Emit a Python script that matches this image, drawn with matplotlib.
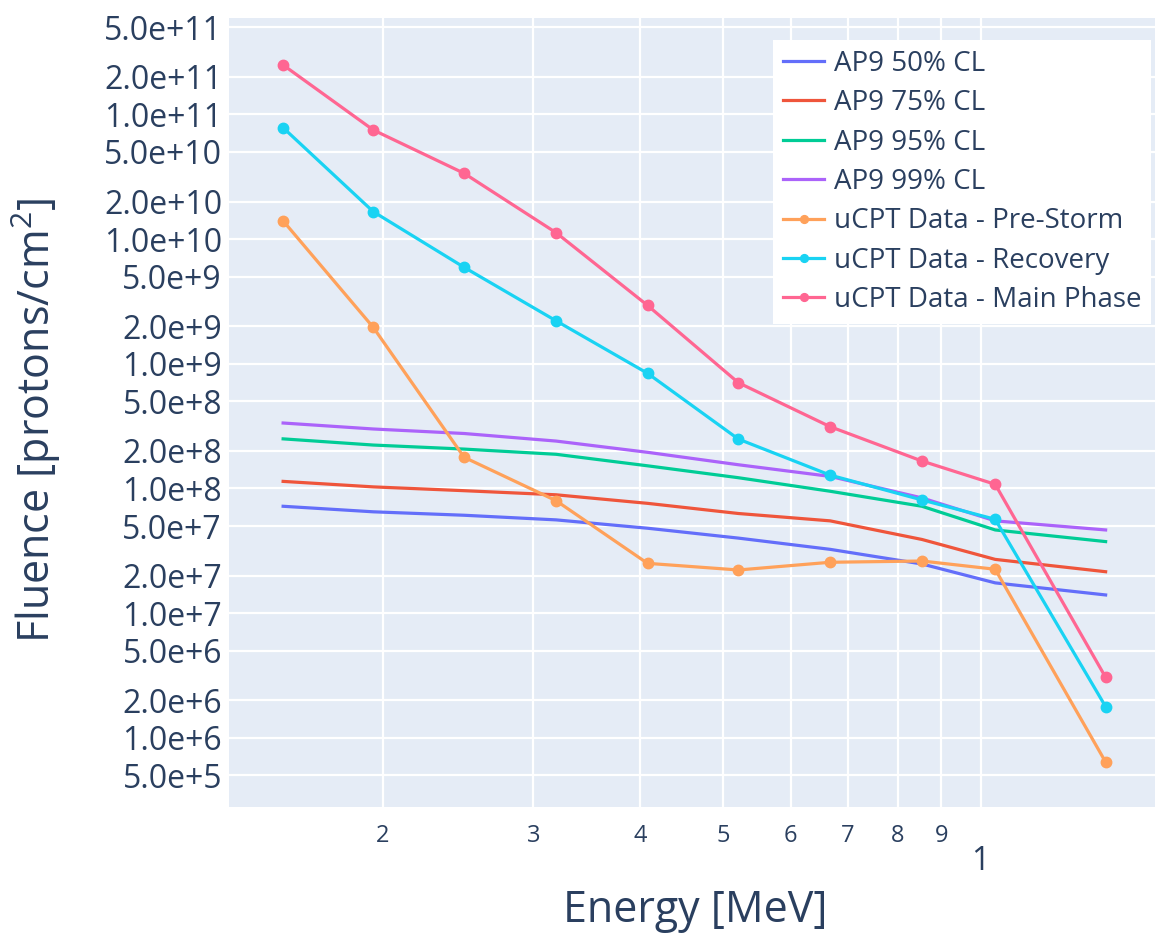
import matplotlib
matplotlib.use("Agg")
import matplotlib.pyplot as plt
from matplotlib.ticker import FixedLocator, FixedFormatter

plt.rcParams['font.family'] = ['Open Sans', 'DejaVu Sans']
plt.rcParams['mathtext.fontset'] = 'custom'
plt.rcParams['mathtext.rm'] = 'Open Sans'
plt.rcParams['mathtext.default'] = 'regular'

# energy bins [MeV]
energy = [1.53, 1.95, 2.49, 3.19, 4.08, 5.21, 6.67, 8.54, 10.4, 14.0]

# AP9 model fluence at several confidence levels
ap9_50 = [7.2e7, 6.5e7, 6.1e7, 5.6e7, 4.8e7, 4.0e7, 3.25e7, 2.48e7, 1.75e7, 1.4e7]
ap9_75 = [1.14e8, 1.03e8, 9.6e7, 8.9e7, 7.6e7, 6.3e7, 5.5e7, 3.9e7, 2.7e7, 2.15e7]
ap9_95 = [2.5e8, 2.23e8, 2.07e8, 1.88e8, 1.52e8, 1.22e8, 9.5e7, 7.2e7, 4.65e7, 3.75e7]
ap9_99 = [3.35e8, 3.0e8, 2.76e8, 2.4e8, 1.95e8, 1.55e8, 1.25e8, 8.4e7, 5.5e7, 4.65e7]

# uCPT measured fluence per storm phase
pre_storm = [1.40e10, 1.96e9, 1.78e8, 7.98e7, 2.51e7, 2.22e7, 2.56e7, 2.62e7, 2.25e7, 6.4e5]
recovery = [7.82e10, 1.66e10, 5.94e9, 2.21e9, 8.39e8, 2.49e8, 1.28e8, 8.09e7, 5.66e7, 1.78e6]
main_phase = [2.49e11, 7.5e10, 3.37e10, 1.125e10, 2.94e9, 7.05e8, 3.13e8, 1.66e8, 1.08e8, 3.06e6]

y_ticks = [5e5, 1e6, 2e6, 5e6, 1e7, 2e7, 5e7, 1e8, 2e8, 5e8, 1e9, 2e9, 5e9,
           1e10, 2e10, 5e10, 1e11, 2e11, 5e11]
y_labels = ['5.0e+5', '1.0e+6', '2.0e+6', '5.0e+6', '1.0e+7', '2.0e+7', '5.0e+7',
            '1.0e+8', '2.0e+8', '5.0e+8', '1.0e+9', '2.0e+9', '5.0e+9',
            '1.0e+10', '2.0e+10', '5.0e+10', '1.0e+11', '2.0e+11', '5.0e+11']
x_minor = [2, 3, 4, 5, 6, 7, 8, 9]
x_minor_labels = ['2', '3', '4', '5', '6', '7', '8', '9']
x_major = [10]
x_major_labels = ['1']

txt = '#2a3f5f'
W, H = 1155, 933
fig = plt.figure(figsize=(W / 100, H / 100), dpi=100)
ax = fig.add_axes([229 / W, (H - 807) / H, (W - 229) / W, (807 - 18) / H])
ax.set_facecolor('#E5ECF6')
for s in ax.spines.values():
    s.set_visible(False)

ax.set_xscale('log')
ax.set_yscale('log')
ax.set_xlim(1.3226, 15.99)
ax.set_ylim(2.79e5, 5.93e11)

lw = 2.3
ax.plot(energy, ap9_50, color='#636EFA', lw=lw, label='AP9 50% CL')
ax.plot(energy, ap9_75, color='#EF553B', lw=lw, label='AP9 75% CL')
ax.plot(energy, ap9_95, color='#00CC96', lw=lw, label='AP9 95% CL')
ax.plot(energy, ap9_99, color='#AB63FA', lw=lw, label='AP9 99% CL')
ax.plot(energy, pre_storm, color='#FFA15A', lw=lw, marker='o', ms=7.5,
        label='uCPT Data - Pre-Storm')
ax.plot(energy, recovery, color='#19D3F3', lw=lw, marker='o', ms=7.5,
        label='uCPT Data - Recovery')
ax.plot(energy, main_phase, color='#FF6692', lw=lw, marker='o', ms=7.5,
        label='uCPT Data - Main Phase')

# ticks: decade gets a bigger label, the in-between digits a smaller one
ax.yaxis.set_major_locator(FixedLocator(y_ticks))
ax.yaxis.set_major_formatter(FixedFormatter(y_labels))
ax.yaxis.set_minor_locator(FixedLocator([]))
ax.xaxis.set_major_locator(FixedLocator(x_major))
ax.xaxis.set_major_formatter(FixedFormatter(x_major_labels))
ax.xaxis.set_minor_locator(FixedLocator(x_minor))
ax.xaxis.set_minor_formatter(FixedFormatter(x_minor_labels))
ax.tick_params(axis='y', which='major', length=0, labelsize=23, pad=5, colors=txt)
ax.tick_params(axis='x', which='major', length=0, labelsize=23, pad=27, colors=txt)
ax.tick_params(axis='x', which='minor', length=0, labelsize=17, pad=12, colors=txt)
ax.grid(True, which='both', axis='x', color='white', lw=1.6)
ax.grid(True, which='major', axis='y', color='white', lw=1.6)
ax.set_axisbelow(True)

fig.text(695 / W, 1 - 911 / H, 'Energy [MeV]', fontsize=31, color=txt,
         ha='center', va='center')
fig.text(36 / W, 1 - 420 / H, 'Fluence [protons/cm$^{2}$]', fontsize=31,
         color=txt, ha='center', va='center', rotation=90)

leg = ax.legend(loc='upper left', bbox_to_anchor=(773 / W, 1 - 40 / H),
                bbox_transform=fig.transFigure, fontsize=20, frameon=True,
                fancybox=False, borderaxespad=0, borderpad=0.35,
                handlelength=1.5, handletextpad=0.33, labelspacing=0.41,
                markerscale=0.75)
leg.get_frame().set_facecolor('white')
leg.get_frame().set_edgecolor('none')
leg.get_frame().set_alpha(1)
for t in leg.get_texts():
    t.set_color(txt)

fig.savefig('out.png', dpi=100, facecolor='white')
